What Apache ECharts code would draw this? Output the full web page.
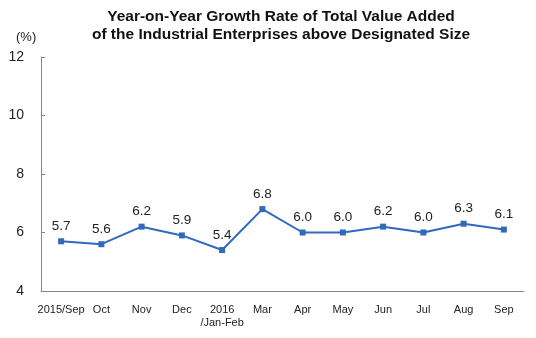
<!DOCTYPE html>
<html>
<head>
<meta charset="utf-8">
<script src="https://cdn.jsdelivr.net/npm/echarts@6/dist/echarts.min.js"></script>
<style>
  html, body { margin: 0; padding: 0; background: #fff; }
  #chart { width: 536px; height: 338px; }
</style>
</head>
<body>
<div id="chart"></div>
<script>
// Monthly year-on-year growth of industrial value added (%)
const months = ['2015/Sep', 'Oct', 'Nov', 'Dec', '2016\n/Jan-Feb', 'Mar', 'Apr', 'May', 'Jun', 'Jul', 'Aug', 'Sep'];
const growth = [5.7, 5.6, 6.2, 5.9, 5.4, 6.8, 6.0, 6.0, 6.2, 6.0, 6.3, 6.1];
const yTicks = { min: 4, max: 12, step: 2 };

const font = 'Arial, "Liberation Sans", sans-serif';
const axisGray = '#8a8a8a';
const lineBlue = '#3069bd';

const chart = echarts.init(document.getElementById('chart'));
chart.setOption({
  animation: false,
  title: {
    text: 'Year-on-Year Growth Rate of Total Value Added\nof the Industrial Enterprises above Designated Size',
    left: 276,
    textAlign: 'center',
    top: 3,
    textStyle: { fontFamily: font, fontSize: 15.5, fontWeight: 'bold', color: '#111', lineHeight: 18 }
  },
  graphic: [{
    type: 'text',
    left: 16,
    top: 31,
    style: { text: '(%)', font: '13px ' + font, fill: '#222' }
  }],
  grid: { left: 41, right: 12, top: 57, bottom: 47 },
  xAxis: {
    type: 'category',
    data: months,
    boundaryGap: true,
    axisLine: { lineStyle: { color: axisGray, width: 1 } },
    axisTick: { inside: true, length: 4, lineStyle: { color: axisGray } },
    axisLabel: { fontFamily: font, fontSize: 11, color: '#222', margin: 12, lineHeight: 13, interval: 0 },
    splitLine: { show: false }
  },
  yAxis: {
    type: 'value',
    min: yTicks.min,
    max: yTicks.max,
    interval: yTicks.step,
    axisLine: { show: true, lineStyle: { color: axisGray, width: 1 } },
    axisTick: { show: true, inside: true, length: 4, lineStyle: { color: axisGray } },
    axisLabel: { fontFamily: font, fontSize: 14, color: '#222', margin: 17 },
    splitLine: { show: false }
  },
  series: [{
    type: 'line',
    data: growth,
    symbol: 'rect',
    symbolSize: 6,
    lineStyle: { color: lineBlue, width: 2 },
    itemStyle: { color: lineBlue },
    label: {
      show: true,
      position: 'top',
      distance: 5,
      fontFamily: font,
      fontSize: 13.5,
      color: '#222',
      formatter: p => p.value.toFixed(1)
    }
  }]
});
</script>
</body>
</html>
